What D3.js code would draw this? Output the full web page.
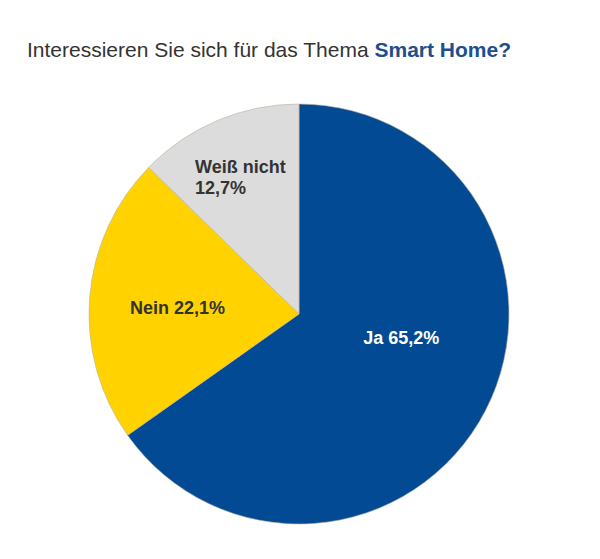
<!DOCTYPE html>
<html>
<head>
<meta charset="utf-8">
<script src="https://cdn.jsdelivr.net/npm/d3@7"></script>
<style>
  body { margin: 0; background: #fff; }
  svg { display: block; font-family: "Liberation Sans", Arial, sans-serif; }
</style>
</head>
<body>
<svg id="chart" width="600" height="559"></svg>
<script>
// survey answers, clockwise from 12 o'clock
var categories = ['Ja', 'Nein', 'Weiß nicht']
var shares = [65.2, 22.1, 12.7]
var colors = ['#034a94', '#ffd200', '#dcdcdc']
var labelColors = ['#ffffff', '#333333', '#333333']

var width = 600
var height = 559
var cx = 299
var cy = 314
var radius = 210

var svg = d3.select('#chart')

// title: plain part + bold blue part
var title = svg.append('text')
  .attr('x', 27)
  .attr('y', 57)
  .attr('font-size', 21)
  .attr('fill', '#333')
title.append('tspan').text('Interessieren Sie sich für das Thema ')
title.append('tspan')
  .attr('font-weight', 'bold')
  .attr('fill', '#1c4f8c')
  .text('Smart Home?')

var data = categories.map(function (c, i) {
  return { name: c, value: shares[i], color: colors[i], label: labelColors[i] }
})

var pie = d3.pie()
  .sort(null)
  .value(function (d) { return d.value })

var arc = d3.arc()
  .innerRadius(0)
  .outerRadius(radius)

var g = svg.append('g')
  .attr('transform', 'translate(' + cx + ',' + cy + ')')

var arcs = pie(data)

g.selectAll('path')
  .data(arcs)
  .enter().append('path')
    .attr('d', arc)
    .attr('fill', function (d) { return d.data.color })
    .attr('stroke', '#b9b29a')
    .attr('stroke-width', 0.6)

var fmt = function (v) { return d3.format('.1f')(v).replace('.', ',') + '%' }

// label placement (radius fraction along slice mid-angle, plus nudges)
var labelRadius = [0.5, 0.58, 0.71]
var labelNudge = [[9, -24], [0, 4], [-46, -4]]

arcs.forEach(function (d, i) {
  var la = d3.arc().innerRadius(radius * labelRadius[i]).outerRadius(radius * labelRadius[i])
  var c = la.centroid(d)
  var x = c[0] + labelNudge[i][0]
  var y = c[1] + labelNudge[i][1]
  var t = g.append('text')
    .attr('font-size', 18)
    .attr('font-weight', 'bold')
    .attr('fill', d.data.label)
  if (i === 2) {
    t.attr('text-anchor', 'start')
    t.append('tspan').attr('x', x).attr('y', y).text(d.data.name)
    t.append('tspan').attr('x', x).attr('y', y + 21).text(fmt(d.data.value))
  } else {
    t.attr('text-anchor', 'middle')
      .attr('x', x)
      .attr('y', y + 6)
      .text(d.data.name + ' ' + fmt(d.data.value))
  }
})
</script>
</body>
</html>
